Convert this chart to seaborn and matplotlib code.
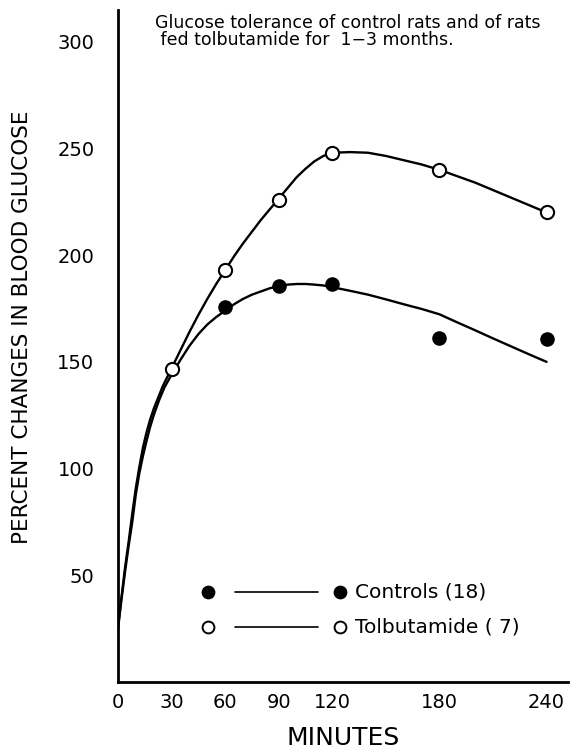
import numpy as np
import pandas as pd
import matplotlib
matplotlib.use("Agg")
import matplotlib.pyplot as plt
import seaborn as sns

# measured points
minutes = [30, 60, 90, 120, 180, 240]
tolb_pts = [146.5, 193, 226, 248, 240, 220]
ctrl_minutes = [60, 90, 120, 180, 240]
ctrl_pts = [175.5, 185.5, 186.5, 161, 160.5]

# hand-drawn smooth curves
tolb_curve_x = [0, 1, 2, 3, 4, 6, 8, 10, 12, 14, 16, 18, 20, 25, 30, 35, 40, 45, 50, 55, 60, 65, 70, 75,
                80, 85, 90, 95, 100, 105, 110, 115, 120, 130, 140, 150, 160, 170, 180, 190, 200, 210,
                220, 230, 240]
tolb_curve_y = [25, 33, 40, 47, 54, 66, 79, 91, 101, 110, 117, 123, 128, 138.5, 147, 155.5, 164, 172, 179.5,
                186.5, 193, 199.5, 205.5, 211, 216.5, 221.5, 226.5, 231.5, 236.5, 240.5, 244, 246.5, 248,
                248.3, 248, 246.5, 244.5, 242.5, 240, 237, 234, 230.5, 227, 223.5, 220]
ctrl_curve_x = [0, 1, 2, 3, 4, 6, 8, 10, 12, 14, 16, 18, 20, 23, 26, 30, 35, 40, 45, 50, 55, 60, 65, 70,
                75, 80, 85, 90, 95, 100, 105, 110, 115, 120, 130, 140, 150, 160, 170, 180, 190, 200, 210,
                220, 230, 240]
ctrl_curve_y = [25, 32, 39, 45.5, 52, 64, 75, 88, 98, 106, 113, 119.5, 125, 132, 138, 144, 151, 157.5, 163,
                167.5, 171, 174, 177, 179.5, 181.5, 183, 184.5, 185.5, 186.2, 186.5, 186.5, 186.2, 185.8,
                185, 183.3, 181.5, 179.3, 177, 174.8, 172.3, 168.5, 164.8, 161, 157.3, 153.6, 150]

y_ticks = [50, 100, 150, 200, 250, 300]
x_ticks = [0, 30, 60, 90, 120, 180, 240]

sns.set_style("white")
plt.rcParams['font.family'] = ['DejaVu Sans']
for k in ["text.color", "axes.labelcolor", "xtick.color", "ytick.color"]:
    plt.rcParams[k] = "black"

fig = plt.figure(figsize=(5.85, 7.51), dpi=100)
ax = fig.add_axes([0.2017, 0.0919, 0.7693, 0.8951])

sns.lineplot(x=tolb_curve_x, y=tolb_curve_y, ax=ax, color="black", lw=1.7, sort=False, estimator=None)
sns.lineplot(x=ctrl_curve_x, y=ctrl_curve_y, ax=ax, color="black", lw=1.7, sort=False, estimator=None)
sns.scatterplot(x=minutes, y=tolb_pts, ax=ax, marker="o", s=90, facecolor="white",
                edgecolor="black", linewidth=1.5, zorder=5)
sns.scatterplot(x=ctrl_minutes, y=ctrl_pts, ax=ax, marker="o", s=90, color="black",
                edgecolor="black", linewidth=1, zorder=5)

ax.set_xlim(0, 252)
ax.set_ylim(0, 315)
ax.set_xticks(x_ticks)
ax.set_yticks(y_ticks)
ax.set_xticklabels([str(v) for v in x_ticks], fontsize=14)
ax.set_yticklabels([str(v) for v in y_ticks], fontsize=14)
ax.tick_params(direction="in", length=6, width=1.2, pad=8)
ax.tick_params(axis="y", pad=17)
sns.despine(ax=ax)
for s in ["left", "bottom"]:
    ax.spines[s].set_linewidth(2)
    ax.spines[s].set_color("black")

ax.set_xlabel("MINUTES", fontsize=18, labelpad=10)
ax.set_ylabel("PERCENT CHANGES IN BLOOD GLUCOSE", fontsize=15.5)
ax.yaxis.set_label_coords(-0.19, 0.527)

# legend drawn as in the original: marker, line, marker, label
leg_rows = [("Controls (18)", "black", 0.134), ("Tolbutamide ( 7)", "white", 0.082)]
for label, face, yy in leg_rows:
    ax.plot([0.2], [yy], transform=ax.transAxes, marker="o", ms=8.5, mfc=face, mec="black", mew=1.4, ls="none")
    ax.plot([0.26, 0.445], [yy, yy], transform=ax.transAxes, color="black", lw=1.2)
    ax.plot([0.494], [yy], transform=ax.transAxes, marker="o", ms=8.5, mfc=face, mec="black", mew=1.4, ls="none")
    ax.text(0.527, yy, label, transform=ax.transAxes, fontsize=14.5, va="center", ha="left")

fig.text(0.265, 0.982, "Glucose tolerance of control rats and of rats\n fed tolbutamide for  1\u22123 months.",
         fontsize=12.5, va="top", ha="left", linespacing=0.98)

fig.savefig("out.png", dpi=100)
